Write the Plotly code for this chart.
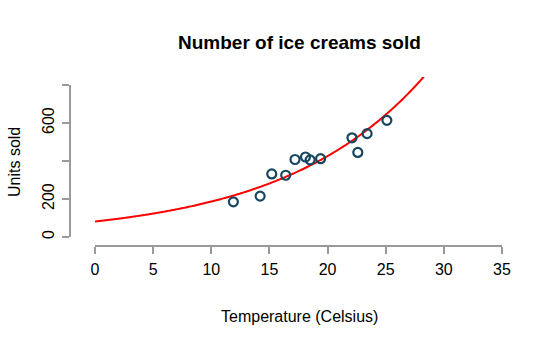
import numpy as np
import plotly.graph_objects as go

# Data
temp = [11.9, 14.2, 15.2, 16.4, 17.2, 18.1, 18.5, 19.4, 22.1, 22.6, 23.4, 25.1]
units = [185, 215, 332, 325, 408, 421, 406, 412, 522, 445, 544, 614]
x_ticks = [0, 5, 10, 15, 20, 25, 30, 35]
y_ticks = [0, 200, 400, 600, 800]
y_tick_labels = ["0", "200", "", "600", ""]

# log-linear model fit: log(units) ~ temp
b, a = np.polyfit(temp, np.log(units), 1)
curve_x = np.linspace(0, 35, 400)
curve_y = np.exp(a + b * curve_x)

W, H = 559, 345
L, R, T, B = 70, 32, 77, 99
pw, ph = W - L - R, H - T - B
# pixel geometry
x0px, x35px = 95, 502
y0px, y800px = 237, 85
xs = (x35px - x0px) / 35.0
ys = (y0px - y800px) / 800.0
xr = [-(x0px - L) / xs, 35 + (W - R - x35px) / xs]
yr = [-((H - B) - y0px) / ys, 800 + (y800px - T) / ys]

font = "Liberation Sans, Arial, sans-serif"
grey = "#9a9a9a"

fig = go.Figure()
# invisible trace to carry the display axes
fig.add_trace(go.Scatter(x=[0, 35], y=[0, 800], mode="markers",
                         marker=dict(opacity=0), hoverinfo="skip",
                         xaxis="x2", yaxis="y2", showlegend=False))
fig.add_trace(go.Scatter(x=curve_x, y=curve_y, mode="lines",
                         line=dict(color="#ff0000", width=2, simplify=False), hoverinfo="skip",
                         xaxis="x", yaxis="y", showlegend=False))
fig.add_trace(go.Scatter(x=temp, y=units, mode="markers",
                         marker=dict(symbol="circle-open", size=9, color="#17475f",
                                     line=dict(width=2.2, color="#17475f")),
                         xaxis="x", yaxis="y", showlegend=False))

fig.update_layout(
    width=W, height=H,
    margin=dict(l=L, r=R, t=T, b=B),
    paper_bgcolor="white", plot_bgcolor="rgba(0,0,0,0)",
    font=dict(family=font, size=16, color="black"),
    xaxis=dict(range=xr, domain=[0, 1], anchor="y", visible=False, fixedrange=True),
    yaxis=dict(range=yr, domain=[0, 1], anchor="x", visible=False, fixedrange=True),
    xaxis2=dict(range=[0, 35], domain=[(x0px - L) / pw, (x35px - L) / pw],
                anchor="free", position=0, fixedrange=True,
                tickvals=x_ticks, ticks="outside", ticklen=7, tickcolor=grey, tickwidth=1.5,
                showline=True, linecolor=grey, linewidth=1.5, showgrid=False, zeroline=False,
                tickfont=dict(size=16, color="black"), ticklabelstandoff=2),
    yaxis2=dict(range=[0, 800], domain=[((H - B) - y0px) / ph, ((H - B) - y800px) / ph],
                anchor="free", position=0, fixedrange=True,
                tickvals=y_ticks, ticktext=y_tick_labels, tickangle=-90,
                ticks="outside", ticklen=7, tickcolor=grey, tickwidth=1.5,
                showline=True, linecolor=grey, linewidth=1.5, showgrid=False, zeroline=False,
                tickfont=dict(size=16, color="black"), ticklabelstandoff=2),
    annotations=[
        dict(text="<b>Number of ice creams sold</b>", xref="paper", yref="paper",
             x=(299 - L) / pw, y=((H - B) - 42) / ph, xanchor="center", yanchor="middle",
             showarrow=False, font=dict(size=19, color="black")),
        dict(text="Temperature (Celsius)", xref="paper", yref="paper",
             x=(299 - L) / pw, y=((H - B) - 316) / ph, xanchor="center", yanchor="middle",
             showarrow=False, font=dict(size=16, color="black")),
        dict(text="Units sold", xref="paper", yref="paper", textangle=-90,
             x=(14 - L) / pw, y=((H - B) - 162) / ph, xanchor="center", yanchor="middle",
             showarrow=False, font=dict(size=16, color="black")),
    ],
)
fig.write_html("out.html")
